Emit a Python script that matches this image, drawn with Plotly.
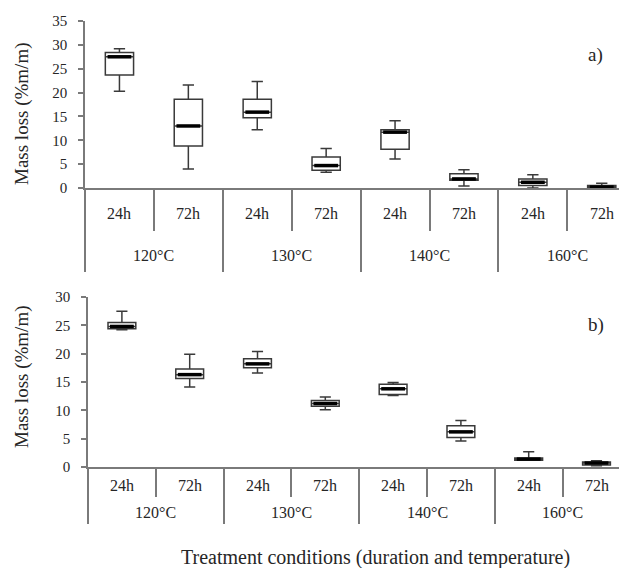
import plotly.graph_objects as go

# ---- data ----
temps = ["120°C", "120°C", "130°C", "130°C", "140°C", "140°C", "160°C", "160°C"]
durations = ["24h", "72h", "24h", "72h", "24h", "72h", "24h", "72h"]

# panel a)
a_low = [20.3, 4.0, 12.2, 3.3, 6.1, 0.4, 0.0, 0.0]
a_q1 = [23.7, 8.8, 14.7, 3.7, 8.1, 1.6, 0.55, 0.0]
a_med = [27.5, 13.0, 15.9, 4.7, 11.7, 1.9, 1.2, 0.2]
a_q3 = [28.4, 18.6, 18.6, 6.5, 12.2, 3.0, 1.9, 0.5]
a_up = [29.2, 21.6, 22.3, 8.3, 14.1, 3.8, 2.8, 1.0]

# panel b)
b_low = [24.2, 14.1, 16.6, 10.1, 12.6, 4.6, 1.2, 0.2]
b_q1 = [24.4, 15.6, 17.5, 10.7, 12.8, 5.2, 1.2, 0.35]
b_med = [24.8, 16.3, 18.2, 11.2, 13.8, 6.2, 1.4, 0.7]
b_q3 = [25.5, 17.3, 19.1, 11.75, 14.6, 7.3, 1.6, 0.9]
b_up = [27.5, 19.9, 20.4, 12.35, 14.9, 8.2, 2.7, 1.1]

y_ticks_a = [0, 5, 10, 15, 20, 25, 30, 35]
y_ticks_b = [0, 5, 10, 15, 20, 25, 30]

FONT = "Liberation Serif"
TXT = "#262626"
AX = "#7a7a7a"

pos = list(range(len(temps)))
inner_bounds = [i - 0.5 for i in range(len(temps) + 1)]
group_bounds = [-0.5] + [i + 0.5 for i in range(len(temps) - 1) if temps[i] != temps[i + 1]] + [len(temps) - 0.5]
groups = []
for t in dict.fromkeys(temps):
    idx = [i for i, v in enumerate(temps) if v == t]
    groups.append((t, sum(idx) / len(idx)))

fig = go.Figure()


def add_panel(xa, ya, low, q1, med, q3, up):
    fig.add_trace(go.Box(
        x=pos, q1=q1, median=med, q3=q3, lowerfence=low, upperfence=up,
        width=0.41, whiskerwidth=0.4, fillcolor="white",
        line=dict(color="#3a3a3a", width=1.5),
        xaxis=xa, yaxis=ya, showlegend=False, hoverinfo="skip"))
    fig.add_trace(go.Scatter(
        x=pos, y=med, mode="markers",
        marker=dict(symbol="line-ew", size=17, line=dict(color="black", width=3.5)),
        xaxis=xa, yaxis=ya, showlegend=False, hoverinfo="skip", cliponaxis=False))


add_panel("x", "y", a_low, a_q1, a_med, a_q3, a_up)
add_panel("x2", "y2", b_low, b_q1, b_med, b_q3, b_up)

# the page body has an 8px margin: size the figure so it ends at the window edge
OFF = 8
W, H = 627 - OFF, 568 - OFF


def fx(px):
    return (px - OFF) / W


def fy(py):
    return 1 - (py - OFF) / H


def xaxis_cfg(left_px, span_px, major_len, minor_len):
    return dict(
        domain=[fx(left_px), 1], range=[-0.5, -0.5 + (627 - left_px) / span_px],
        automargin=False,
        showline=True, linecolor=AX, linewidth=1.5, showgrid=False, zeroline=False,
        tickmode="array", tickvals=group_bounds, ticks="outside", ticklen=major_len,
        tickwidth=1.5, tickcolor=AX, showticklabels=False,
        minor=dict(tickmode="array", tickvals=inner_bounds, ticks="outside",
                   ticklen=minor_len, tickwidth=1.5, tickcolor=AX, showgrid=False),
    )


def yaxis_cfg(bot_px, top_px, ymax, ticks, anchor):
    return dict(
        domain=[fy(bot_px), fy(top_px)], range=[0, ymax],
        automargin=False,
        tickmode="array", tickvals=ticks,
        showline=True, linecolor=AX, linewidth=1.5, showgrid=False, zeroline=False,
        ticks="outside", ticklen=5, tickwidth=1.5, tickcolor=AX,
        tickfont=dict(family=FONT, size=15, color=TXT), ticklabelstandoff=8,
        anchor=anchor,
    )


fig.update_layout(
    width=W, height=H, margin=dict(l=0, r=0, t=0, b=0),
    paper_bgcolor="white", plot_bgcolor="white",
    font=dict(family=FONT, color=TXT),
    xaxis=xaxis_cfg(85, 68.9, 82, 41) | dict(anchor="y"),
    yaxis=yaxis_cfg(188, 21, 35, y_ticks_a, "x"),
    xaxis2=xaxis_cfg(88, 67.8, 55, 28) | dict(anchor="y2"),
    yaxis2=yaxis_cfg(467, 297, 30, y_ticks_b, "x2"),
)

ann = []
for xr, yr, d_shift, t_shift in [("x", "y domain", 25, 67), ("x2", "y2 domain", 18, 45)]:
    for i, d in enumerate(durations):
        ann.append(dict(x=i, y=0, xref=xr, yref=yr, text=d, showarrow=False,
                        xanchor="center", yanchor="middle", yshift=-d_shift,
                        font=dict(family=FONT, size=16, color=TXT)))
    for t, c in groups:
        ann.append(dict(x=c, y=0, xref=xr, yref=yr, text=t, showarrow=False,
                        xanchor="center", yanchor="middle", yshift=-t_shift,
                        font=dict(family=FONT, size=16, color=TXT)))

for txt, yc in [("Mass loss (%m/m)", 114), ("Mass loss (%m/m)", 377)]:
    ann.append(dict(x=fx(22), y=fy(yc), xref="paper", yref="paper", text=txt,
                    textangle=-90, showarrow=False, xanchor="center", yanchor="middle",
                    font=dict(family=FONT, size=19, color=TXT)))

ann.append(dict(x=fx(595), y=fy(55), xref="paper", yref="paper", text="a)",
                xanchor="center", yanchor="middle",
                showarrow=False, font=dict(family=FONT, size=19, color=TXT)))
ann.append(dict(x=fx(596), y=fy(325), xref="paper", yref="paper", text="b)",
                xanchor="center", yanchor="middle",
                showarrow=False, font=dict(family=FONT, size=19, color=TXT)))
ann.append(dict(x=fx(375), y=fy(557), xref="paper", yref="paper",
                text="Treatment conditions (duration and temperature)", showarrow=False,
                xanchor="center", yanchor="middle",
                font=dict(family=FONT, size=20, color=TXT)))

fig.update_layout(annotations=ann)
fig.write_html("out.html")
